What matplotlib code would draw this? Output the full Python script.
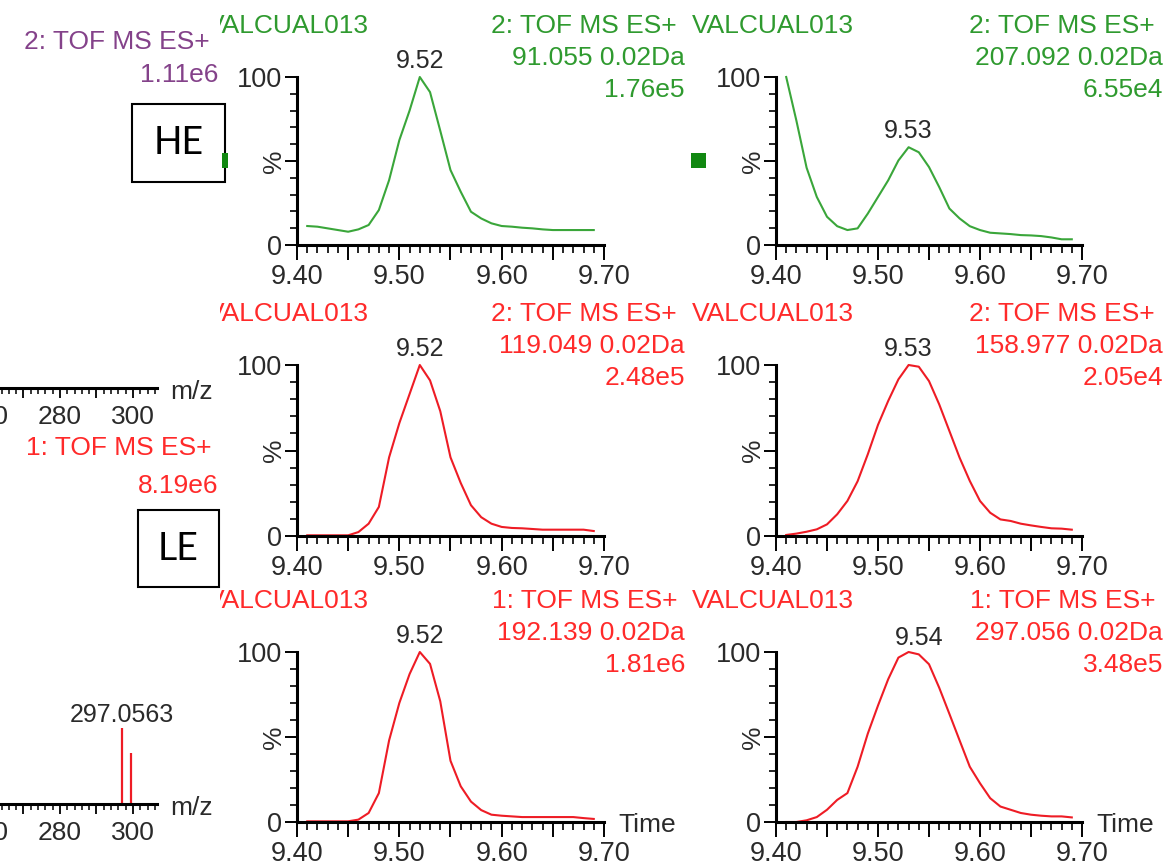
import numpy as np
import matplotlib.pyplot as plt
from matplotlib.ticker import MultipleLocator, FixedLocator, FixedFormatter, FuncFormatter
from matplotlib.patches import Rectangle
from matplotlib.transforms import Bbox, TransformedBbox

plt.rcParams['font.family'] = ['Liberation Sans', 'DejaVu Sans']

# retention time grid (min) and normalised chromatogram intensities (%)
rt = [9.41, 9.42, 9.43, 9.44, 9.45, 9.46, 9.47, 9.48, 9.49, 9.50,
      9.51, 9.52, 9.53, 9.54, 9.55, 9.56, 9.57, 9.58, 9.59, 9.60,
      9.61, 9.62, 9.63, 9.64, 9.65, 9.66, 9.67, 9.68, 9.69]

he_091 = [11.3, 10.9, 9.9, 8.9, 7.9, 9.3, 11.9, 20.8, 38.6, 62.4,
          80.0, 100, 91.0, 68.0, 44.6, 31.7, 19.8, 15.8, 12.9, 11.3,
          10.9, 10.3, 9.9, 9.3, 8.9, 8.9, 8.9, 8.9, 8.9]
he_207 = [100, 74, 46, 28.6, 16.8, 11.2, 8.9, 9.9, 18.7, 28.6,
          38.5, 50.3, 58.2, 55.2, 46.4, 34.5, 21.7, 15.8, 11.2, 8.9,
          7.3, 6.9, 6.5, 5.9, 5.7, 5.3, 4.5, 3.4, 3.4]
le_119 = [0.4, 0.4, 0.4, 0.4, 0.4, 2.3, 7.2, 17, 46, 66,
          83, 100, 91, 73, 46, 31, 18, 11, 7.2, 5.3,
          4.7, 4.5, 4.1, 3.7, 3.7, 3.7, 3.7, 3.7, 2.9]
le_159 = [0.6, 1.4, 2.5, 3.9, 6.8, 12.7, 20.5, 32, 47.8, 65,
          79, 91.6, 100, 99, 90.6, 77, 61.4, 45.8, 32.2, 20.5,
          13.6, 9.7, 8.8, 7.2, 6.2, 5.3, 4.5, 4.3, 3.7]
le_192 = [0.4, 0.4, 0.4, 0.4, 0.4, 1.4, 5.3, 17, 48, 70,
          87, 100, 93, 71, 36, 21, 12, 7, 4.3, 3.7,
          3.3, 2.9, 2.9, 2.9, 2.9, 2.9, 2.9, 2.3, 1.8]
le_297 = [0, 0, 1, 2.9, 7.2, 13, 17, 32.5, 52, 68.5,
          84, 96.7, 100, 98.6, 92.8, 79, 63.6, 48, 32.5, 22.8,
          14, 9.1, 7.2, 5.3, 4.3, 3.7, 3.3, 3.3, 2.7]

series = [he_091, he_207, le_119, le_159, le_192, le_297]
functions = ['2: TOF MS ES+', '2: TOF MS ES+', '2: TOF MS ES+',
             '2: TOF MS ES+', '1: TOF MS ES+', '1: TOF MS ES+']
masses = ['91.055 0.02Da', '207.092 0.02Da', '119.049 0.02Da',
          '158.977 0.02Da', '192.139 0.02Da', '297.056 0.02Da']
maxima = ['1.76e5', '6.55e4', '2.48e5', '2.05e4', '1.81e6', '3.48e5']
peak_rt = ['9.52', '9.53', '9.52', '9.53', '9.52', '9.54']
sample = 'VALCUAL013'

# mass spectrum strip on the left (bottom row)
spec_mz = [297.0563, 299.5]
spec_int = [100, 67]

GREEN = '#3aa63a'
GREEN_TXT = '#2f9a2f'
RED = '#ee1c25'
RED_TXT = '#ff2a2a'
PURPLE = '#84428a'
DARK = '#2a2a2a'

W, H = 1169, 866
fig = plt.figure(figsize=(W / 100, H / 100), dpi=100)


def fx(x):
    return x / W


def fy(y):
    return 1 - y / H


def box(x0, y0, x1, y1):
    return [x0 / W, 1 - y1 / H, (x1 - x0) / W, (y1 - y0) / H]


cols = [(297, 604), (776, 1082)]
rows = [(77, 245), (365, 536), (652, 822)]
name_x = [207, 692]
func_right = [677, 1155]
mass_right = [685, 1163]

clip_bb = TransformedBbox(Bbox.from_extents(220 / W, 0, 1, 1), fig.transFigure)


def xfmt(v, pos):
    return f'{v:.2f}' if abs(v * 10 - round(v * 10)) < 1e-6 else ''


for i, vals in enumerate(series):
    r, c = divmod(i, 2)
    x0, x1 = cols[c]
    y100, y0 = rows[r]
    colour = GREEN if r == 0 else RED
    tcol = GREEN_TXT if r == 0 else RED_TXT

    ax = fig.add_axes(box(x0, y100, x1, y0))
    ax.patch.set_alpha(0)
    ax.plot(rt, vals, color=colour, lw=1.5, clip_on=False)
    ax.set_xlim(9.40, 9.70)
    ax.set_ylim(0, 100)
    for s in ['top', 'right']:
        ax.spines[s].set_visible(False)
    for s in ['left', 'bottom']:
        ax.spines[s].set_linewidth(2.2)
    ax.xaxis.set_major_locator(MultipleLocator(0.05))
    ax.xaxis.set_minor_locator(MultipleLocator(0.01))
    ax.xaxis.set_major_formatter(FuncFormatter(xfmt))
    ax.yaxis.set_major_locator(FixedLocator([0, 50, 100]))
    ax.yaxis.set_major_formatter(FixedFormatter(['0', '', '100']))
    ax.yaxis.set_minor_locator(MultipleLocator(10))
    ax.tick_params(axis='x', which='major', length=10.5, width=1.4, pad=3,
                   labelsize=19.5, labelcolor=DARK)
    ax.tick_params(axis='x', which='minor', length=5.5, width=1.2)
    ax.tick_params(axis='y', which='major', length=8.5, width=1.4, pad=2,
                   labelsize=19.5, labelcolor=DARK)
    ax.tick_params(axis='y', which='minor', length=5, width=1.2)
    ax.annotate('%', xy=(0, 0.5), xycoords='axes fraction', xytext=(-8, 0),
                textcoords='offset points', rotation=90, ha='right', va='center',
                fontsize=19, color=DARK)

    px = float(peak_rt[i])
    ax.annotate(peak_rt[i], xy=(px, np.interp(px, rt, vals)), xytext=(0, 6.5),
                textcoords='offset points', ha='center', va='baseline',
                fontsize=18, color=DARK, annotation_clip=False)

    t = fig.text(fx(name_x[c]), fy(y100 - 44), sample, ha='left', va='baseline',
                 fontsize=19, color=tcol)
    t.set_clip_box(clip_bb)
    t.set_clip_on(True)
    fig.text(fx(func_right[c]), fy(y100 - 44), functions[i], ha='right',
             va='baseline', fontsize=19, color=tcol)
    fig.text(fx(mass_right[c]), fy(y100 - 12), masses[i], ha='right',
             va='baseline', fontsize=19, color=tcol)
    fig.text(fx(mass_right[c]), fy(y100 + 20), maxima[i], ha='right',
             va='baseline', fontsize=19, color=tcol)
    if r == 2:
        fig.text(fx(x1 + 14), fy(y0 + 3), 'Time', ha='left', va='center',
                 fontsize=19, color=DARK)


# left strip: pieces of the mass spectra
def mz_fmt(v, pos):
    return f'{v:.0f}' if abs(v / 20 - round(v / 20)) < 1e-6 else ''


for y_axis, peaks in [(388, False), (804, True)]:
    ax = fig.add_axes(box(-40, y_axis - 76, 157, y_axis))
    ax.patch.set_alpha(0)
    ax.set_xlim(252.6, 306.6)
    ax.set_ylim(0, 100)
    for s in ['top', 'right', 'left']:
        ax.spines[s].set_visible(False)
    ax.spines['bottom'].set_linewidth(2.2)
    ax.set_yticks([])
    ax.xaxis.set_major_locator(MultipleLocator(10))
    ax.xaxis.set_minor_locator(MultipleLocator(2))
    ax.xaxis.set_major_formatter(FuncFormatter(mz_fmt))
    ax.tick_params(axis='x', which='major', length=7, width=1.3, pad=5,
                   labelsize=19, labelcolor=DARK)
    ax.tick_params(axis='x', which='minor', length=4.5, width=1.1)
    if peaks:
        ax.vlines(spec_mz, 0, spec_int, color=RED, lw=1.6)
        ax.annotate(f'{spec_mz[0]:.4f}', xy=(spec_mz[0], spec_int[0]), xytext=(0, 4),
                    textcoords='offset points', ha='center', va='baseline',
                    fontsize=18, color=DARK, annotation_clip=False)
    fig.text(fx(170), fy(y_axis + 11), 'm/z', ha='left', va='baseline',
             fontsize=19, color=DARK)

fig.text(fx(210), fy(49), '2: TOF MS ES+', ha='right', va='baseline',
         fontsize=19, color=PURPLE)
fig.text(fx(218), fy(82), '1.11e6', ha='right', va='baseline',
         fontsize=19, color=PURPLE)
fig.text(fx(212), fy(455), '1: TOF MS ES+', ha='right', va='baseline',
         fontsize=19, color=RED_TXT)
fig.text(fx(218), fy(493), '8.19e6', ha='right', va='baseline',
         fontsize=19, color=RED_TXT)

# HE / LE labels
for (bx0, by0, bx1, by1), lab in [((132, 104, 225, 182), 'HE'),
                                  ((138, 510, 219, 587), 'LE')]:
    fig.add_artist(Rectangle((fx(bx0), fy(by1)), (bx1 - bx0) / W, (by1 - by0) / H,
                             transform=fig.transFigure, facecolor='white',
                             edgecolor='black', lw=1.5))
    fig.text(fx((bx0 + bx1) / 2), fy((by0 + by1) / 2), lab, ha='center',
             va='center', fontsize=27, family=['Lato', 'DejaVu Sans'], color='black')

# green markers
for (gx0, gy0, gx1, gy1) in [(222, 153, 228, 168), (691, 153, 706, 168)]:
    fig.add_artist(Rectangle((fx(gx0), fy(gy1)), (gx1 - gx0) / W, (gy1 - gy0) / H,
                             transform=fig.transFigure, facecolor='#118811',
                             edgecolor='none'))

fig.savefig('out.png', dpi=100)
